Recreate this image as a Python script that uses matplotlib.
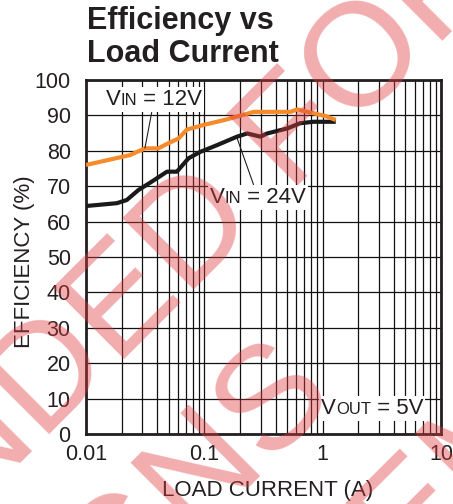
import matplotlib
matplotlib.use("Agg")
import matplotlib.pyplot as plt
from matplotlib.ticker import FixedLocator, NullFormatter
from matplotlib.offsetbox import TextArea, HPacker, AnnotationBbox

plt.rcParams['font.family'] = ['Liberation Sans', 'DejaVu Sans']

# --- DATOS ---
load_12v = [0.01, 0.0236, 0.0316, 0.041, 0.048, 0.0606, 0.0713, 0.0986,
            0.156, 0.262, 0.536, 0.61, 0.79, 1.06, 1.29]
eff_12v = [76.0, 78.8, 80.7, 80.7, 81.9, 83.5, 86.0, 87.3,
           88.9, 91.0, 91.0, 91.7, 90.8, 89.8, 88.7]

load_24v = [0.01, 0.0182, 0.0221, 0.0277, 0.036, 0.0483, 0.0586, 0.0736,
            0.0925, 0.128, 0.189, 0.23, 0.298, 0.34, 0.50, 0.646, 0.84, 1.29]
eff_24v = [64.4, 65.2, 66.1, 68.9, 71.3, 74.1, 74.1, 77.9,
           79.7, 81.6, 84.0, 84.9, 84.0, 84.9, 86.3, 87.8, 88.2, 88.2]

x_ticks = [0.01, 0.1, 1, 10]
x_tick_labels = ['0.01', '0.1', '1', '10']
y_ticks = list(range(0, 101, 10))

watermark_lines = ['NOT RECOMMENDED FOR', 'NEW DESIGNS', 'RECOMMENDED REPLACEMENT PART']

TEXT_COLOR = '#231f20'
ORANGE = '#f68b2c'
W, H = 453, 504


def label_box(ax, parts, xy, xybox, arrow=True):
    """Etiqueta tipo 'VIN = 12V' con subindice en versalitas."""
    areas = [TextArea(t, textprops=dict(size=s, color=TEXT_COLOR)) for t, s in parts]
    box = HPacker(children=areas, align='baseline', pad=0, sep=0)
    ab = AnnotationBbox(box, xy, xybox=xybox, xycoords='data', boxcoords='data',
                        frameon=True, pad=0.15,
                        bboxprops=dict(facecolor='white', edgecolor='none'),
                        arrowprops=dict(arrowstyle='-', color=TEXT_COLOR, lw=0.8,
                                        shrinkA=0, shrinkB=0) if arrow else None,
                        zorder=5)
    ax.add_artist(ab)


def main():
    fig = plt.figure(figsize=(W / 100, H / 100), dpi=100)
    ax = fig.add_axes([86 / W, 1 - 434 / H, 355 / W, 354 / H])

    ax.plot(load_24v, eff_24v, color='#1a1a1a', lw=3, zorder=3, solid_capstyle='butt')
    ax.plot(load_12v, eff_12v, color=ORANGE, lw=3, zorder=3, solid_capstyle='butt')

    ax.set_xscale('log')
    ax.set_xlim(0.01, 10)
    ax.set_ylim(0, 100)

    ax.xaxis.set_major_locator(FixedLocator(x_ticks))
    ax.set_xticklabels(x_tick_labels)
    minor = [m * d for d in [0.01, 0.1, 1] for m in range(2, 10)]
    ax.xaxis.set_minor_locator(FixedLocator(minor))
    ax.xaxis.set_minor_formatter(NullFormatter())
    ax.set_yticks(y_ticks)

    ax.grid(True, which='both', color='#111111', lw=0.9, zorder=1)
    ax.set_axisbelow(True)
    ax.tick_params(which='both', length=0, labelsize=15.5, labelcolor=TEXT_COLOR)
    ax.tick_params(axis='x', pad=7)
    ax.tick_params(axis='y', pad=11)
    for sp in ax.spines.values():
        sp.set_linewidth(2)
        sp.set_color(TEXT_COLOR)

    # etiquetas de curvas
    label_box(ax, [('V', 16), ('IN', 12), (' = 12V', 16)], (0.0315, 80.8), (0.0376, 94.4))
    label_box(ax, [('V', 16), ('IN', 12), (' = 24V', 16)], (0.189, 83.6), (0.284, 66.9))
    label_box(ax, [('V', 16), ('OUT', 12), (' = 5V', 16)], (2.62, 7.1), (2.62, 7.1), arrow=False)

    # titulo y ejes
    fig.text(87 / W, 1 - 29 / H, 'Efficiency vs', fontsize=22, fontweight='bold',
             color=TEXT_COLOR, va='baseline')
    fig.text(87 / W, 1 - 62 / H, 'Load Current', fontsize=22, fontweight='bold',
             color=TEXT_COLOR, va='baseline')
    fig.text(25 / W, 1 - 262 / H, 'EFFICIENCY (%)', fontsize=16, rotation=90,
             ha='center', va='center', color=TEXT_COLOR)
    fig.text(268 / W, 1 - 496 / H, 'LOAD CURRENT (A)', fontsize=16,
             ha='center', va='baseline', color=TEXT_COLOR)

    # marca de agua
    centers = [(-158, 641), (-31, 768), (96, 895)]
    for txt, (px, py) in zip(watermark_lines, centers):
        fig.text(px / W, 1 - py / H, txt, fontsize=106, rotation=45,
                 rotation_mode='anchor', ha='center', va='baseline',
                 color='#e03a3e', alpha=0.42, zorder=10)

    fig.savefig('out.png', dpi=100)
    plt.close(fig)


if __name__ == "__main__":
    main()
